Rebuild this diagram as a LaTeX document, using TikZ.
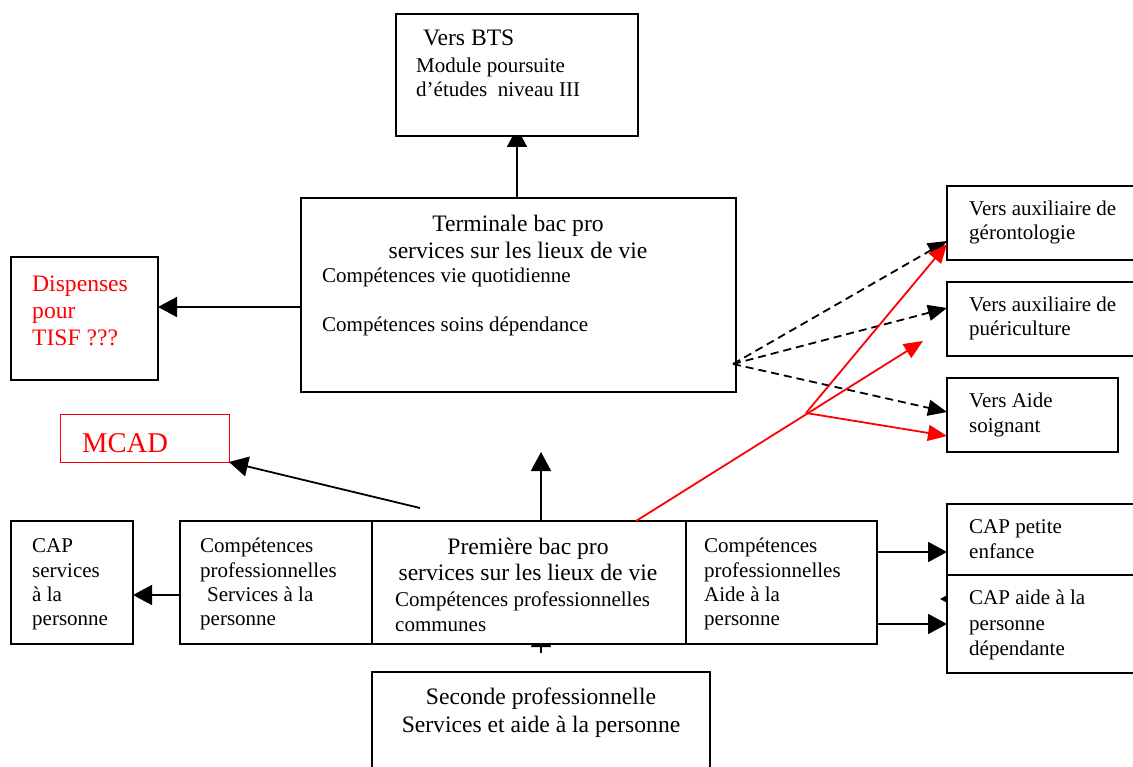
\documentclass[tikz,border=0pt]{standalone}
\usepackage{fontspec}
\setmainfont{Liberation Serif}
\usetikzlibrary{arrows.meta,backgrounds}
\pgfdeclarelayer{paper}
\pgfsetlayers{paper,background,main}
\begin{document}
\begin{tikzpicture}[x=1pt,y=-1pt,
  box/.style={draw=black,line width=1.2pt,fill=white,inner sep=0pt,outer sep=0pt,anchor=north west},
  redbox/.style={box,draw=red,line width=1pt},
  big/.style={font=\fontsize{23.6}{27}\selectfont,inner sep=0pt},
  small/.style={font=\fontsize{21}{24}\selectfont,inner sep=0pt},
  lft/.style={anchor=base west},
  ctr/.style={anchor=base},
  arr/.style={line width=1.8pt,-{Triangle[length=19pt,width=20pt]}},
  darr/.style={line width=1.8pt,dash pattern=on 8pt off 5pt,-{Triangle[length=19pt,width=16pt]}},
  rarr/.style={line width=1.8pt,draw=red,-{Triangle[length=19pt,width=16pt]},fill=red}
]
\clip (0,0) rectangle (1133,767);
\begin{pgfonlayer}{paper}
  \fill[white] (0,0) rectangle (1133,767);
\end{pgfonlayer}

% boxes
\node[box,minimum width=242pt,minimum height=122pt] (bts) at (396,14) {};
\node[box,minimum width=435pt,minimum height=194pt] (ter) at (301,198) {};
\node[box,minimum width=147pt,minimum height=123pt] (disp) at (11,257) {};
\node[redbox,minimum width=169pt,minimum height=48pt] (mcad) at (60,414) {};
\node[box,minimum width=122pt,minimum height=123pt] (caps) at (11,521) {};
\node[box,minimum width=192pt,minimum height=123pt] (cpl) at (180,521) {};
\node[box,minimum width=314pt,minimum height=123pt] (prem) at (372,521) {};
\node[box,minimum width=191pt,minimum height=123pt] (cpr) at (686,521) {};
\node[box,minimum width=338pt,minimum height=120pt] (sec) at (372,672) {};
\node[box,minimum width=200pt,minimum height=74pt] (ger) at (947,186) {};
\node[box,minimum width=200pt,minimum height=74pt] (pue) at (947,282) {};
\node[box,minimum width=171pt,minimum height=74pt] (aso) at (947,378) {};
\node[box,minimum width=200pt,minimum height=71pt] (cpe) at (947,504) {};
\node[box,minimum width=200pt,minimum height=98pt] (cad) at (947,575) {};

% free ends of connectors
\coordinate (msrc) at (420,508);
\coordinate (uptip) at (541,452);
\coordinate (sstub) at (541,653);
\coordinate (dhub) at (733,364);
\coordinate (rhub) at (806,413);
\coordinate (rtip) at (923,341);

% texts
\node[big,lft] (bts1) at (423,46) {Vers BTS};
\node[small,lft] (bts2) at (416,73) {Module poursuite};
\node[small,lft] (bts3) at (416,97) {d’études\ \ niveau III};

\node[big,ctr] (ter1) at (518,232) {Terminale bac pro};
\node[big,ctr] (ter2) at (518,259) {services sur les lieux de vie};
\node[small,lft] (ter3) at (322,283) {Compétences vie quotidienne};
\node[small,lft] (ter4) at (322,332) {Compétences soins dépendance};

\node[big,lft,text=red] (disp1) at (32,292) {Dispenses};
\node[big,lft,text=red] (disp2) at (32,319) {pour};
\node[big,lft,text=red] (disp3) at (32,346) {TISF ???};

\node[lft,inner sep=0pt,text=red,font=\fontsize{28.6}{32}\selectfont] (mcad1) at (82,452) {MCAD};

\node[small,lft] (caps1) at (32,552) {CAP};
\node[small,lft] (caps2) at (32,577) {services};
\node[small,lft] (caps3) at (32,601) {à la};
\node[small,lft] (caps4) at (32,625) {personne};

\node[small,lft] (cpl1) at (200,552) {Compétences};
\node[small,lft] (cpl2) at (200,577) {professionnelles};
\node[small,lft] (cpl3) at (207,601) {Services à la};
\node[small,lft] (cpl4) at (200,625) {personne};

\node[big,ctr] (prem1) at (528,554) {Première bac pro};
\node[big,ctr] (prem2) at (528,580) {services sur les lieux de vie};
\node[small,lft] (prem3) at (395,606) {Compétences professionnelles};
\node[small,lft] (prem4) at (395,631) {communes};

\node[small,lft] (cpr1) at (704,552) {Compétences};
\node[small,lft] (cpr2) at (704,577) {professionnelles};
\node[small,lft] (cpr3) at (704,601) {Aide à la};
\node[small,lft] (cpr4) at (704,625) {personne};

\node[big,ctr] (sec1) at (541,704) {Seconde professionnelle};
\node[big,ctr] (sec2) at (541,732) {Services et aide à la personne};

\node[small,lft] (ger1) at (969,216) {Vers auxiliaire de};
\node[small,lft] (ger2) at (969,240) {gérontologie};
\node[small,lft] (pue1) at (969,312) {Vers auxiliaire de};
\node[small,lft] (pue2) at (969,336) {puériculture};
\node[small,lft] (aso1) at (969,407) {Vers Aide};
\node[small,lft] (aso2) at (969,432) {soignant};

\node[small,lft] (cpe1) at (969,533) {CAP petite};
\node[small,lft] (cpe2) at (969,558) {enfance};
\node[small,lft] (cad1) at (969,604) {CAP aide à la};
\node[small,lft] (cad2) at (969,630) {personne};
\node[small,lft] (cad3) at (969,655) {dépendante};

% connectors whose tips run under a box
\begin{scope}[on background layer]
  \draw[arr] (bts.south |- ter.north) -- ([yshift=8pt]bts.south);
  \draw[arr] (sstub) -- ([xshift=12pt,yshift=16pt]prem.south);
  \draw[arr] ([xshift=30pt,yshift=25pt]cad.west) -- ([xshift=-7pt,yshift=25pt]cad.west);
\end{scope}

% solid connectors
\draw[arr] ([yshift=-12pt]ter.west) -- ([yshift=11.5pt]disp.east);
\draw[arr] (msrc) -- (mcad.south east);
\draw[arr] ([xshift=12pt]prem.north) -- (uptip);
\draw[arr] ([yshift=-12.5pt]cpl.west) -- ([yshift=-12.5pt]caps.east);
\draw[arr] ([yshift=30.5pt]cpr.east) -- ([yshift=-12.5pt]cpe.west);
\draw[arr] ([yshift=-41.5pt]cpr.east) -- (cad.west);

% dashed connectors
\draw[darr] (dhub) -- ([yshift=-18pt]ger.west);
\draw[darr] (dhub) -- ([yshift=11pt]pue.west);
\draw[darr] (dhub) -- ([yshift=3pt]aso.west);

% red connectors
\draw[rarr] ([xshift=107pt]prem.north) -- (rtip);
\draw[rarr] (rhub) -- ([yshift=-21pt]ger.west);
\draw[rarr] (rhub) -- ([yshift=-21pt]aso.west);
\end{tikzpicture}
\end{document}
